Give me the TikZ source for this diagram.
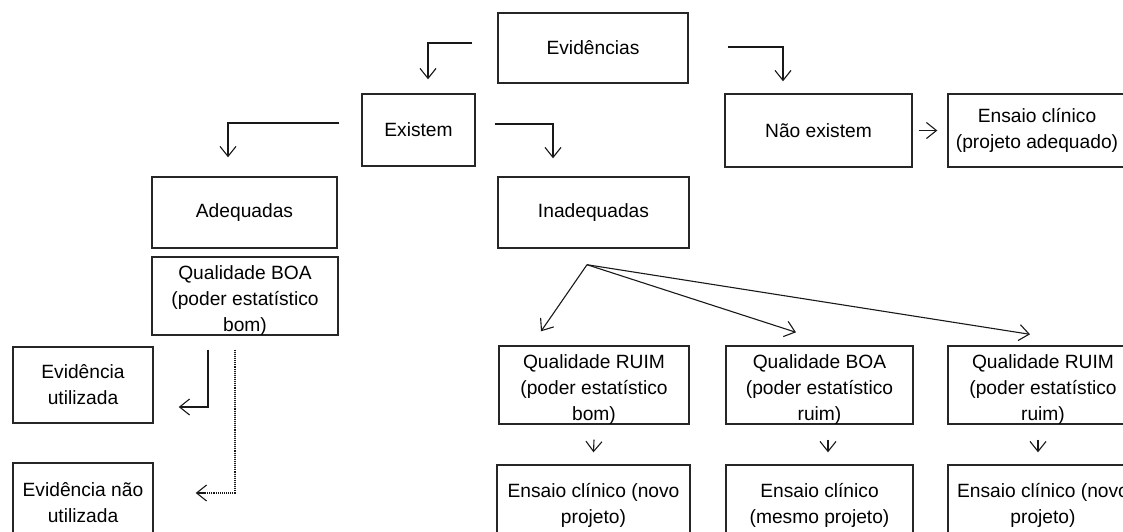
\documentclass[tikz,border=0pt]{standalone}
\usepackage{fontspec}
\setmainfont{Liberation Sans}
\usetikzlibrary{arrows.meta}
% taller first line, so three-line texts sit a little lower in their boxes
\newcommand\firstline{\rule{0pt}{22pt}}
\begin{document}
\begin{tikzpicture}[x=1pt,y=-1pt,
  box/.style={draw=black!85, line width=1.4pt, rectangle, inner sep=0pt,
    align=center, font=\fontsize{19.2}{26}\selectfont},
  wh/.style 2 args={minimum width=#1, minimum height=#2},
  arr/.style={line width=1.1pt, draw=black!90,
    -{Straight Barb[length=10pt,width=16pt,line width=1.1pt]}},
]
\useasboundingbox (0,0) rectangle (1123,531);

% top level
\node[box, wh={190pt}{70pt}] (evid) at (593,48) {Evidências};
\node[box, wh={113pt}{72pt}] (exist) at (418.5,130) {Existem};
\node[box, wh={187pt}{73pt}] (naoex) at (818.5,130.5) {Não existem};
\node[box, wh={178pt}{73pt}] (ensad) at (1037,130.5) {Ensaio clínico\\(projeto adequado)};

% adequate evidence branch
\node[box, wh={185pt}{71pt}] (adeq) at (244.5,212.5) {Adequadas};
\node[box, wh={186pt}{76pt}] (qboa) at (245,296) {\firstline Qualidade BOA\\(poder estatístico\\bom)};
\node[box, wh={140pt}{76pt}] (evutil) at (83,385) {Evidência\\utilizada};
\node[box, wh={140pt}{80pt}] (evnao) at (83,503) {Evidência não\\utilizada};

% inadequate evidence branch
\node[box, wh={191pt}{71pt}] (inad) at (593.5,212.5) {Inadequadas};
\node[box, wh={190pt}{74pt}] (r1) at (594,385) {\firstline Qualidade RUIM\\(poder estatístico\\bom)};
\node[box, wh={187pt}{74pt}] (r2) at (819.5,385) {\firstline Qualidade BOA\\(poder estatístico\\ruim)};
\node[box, wh={190pt}{74pt}] (r3) at (1043,385) {\firstline Qualidade RUIM\\(poder estatístico\\ruim)};
\node[box, wh={193pt}{80pt}] (b1) at (593.5,505) {Ensaio clínico (novo\\projeto)};
\node[box, wh={187pt}{80pt}] (b2) at (819.5,505) {Ensaio clínico\\(mesmo projeto)};
\node[box, wh={190pt}{80pt}] (b3) at (1043,505) {Ensaio clínico (novo\\projeto)};

% elbow connectors
\draw[arr] ([xshift=-25pt,yshift=5pt]evid.west) -| ([xshift=9.5pt,yshift=14pt]exist.north);
\draw[arr] ([xshift=39pt,yshift=1pt]evid.east) -| ([xshift=-35.5pt,yshift=12pt]naoex.north);
\draw[arr] ([xshift=-22pt,yshift=7pt]exist.west) -| ([xshift=-16.5pt,yshift=19pt]adeq.north);
\draw[arr] ([xshift=19pt,yshift=6pt]exist.east) -| ([xshift=-40.5pt,yshift=18pt]inad.north);
\draw[arr] ([xshift=6pt]naoex.east) -- ([xshift=-10pt]ensad.west);

% outcomes of good-quality evidence
\draw[arr] ([xshift=-37pt,yshift=-14pt]qboa.south) |- ([xshift=25pt,yshift=-22pt]evutil.east);
\draw[line width=1.1pt, draw=black!90, densely dotted] ([xshift=-10pt,yshift=-14pt]qboa.south) |- ([xshift=50pt,yshift=10pt]evnao.east) coordinate (dotend);
\draw[arr] (dotend) -- ([xshift=42pt,yshift=10pt]evnao.east);

% fan out from the inadequate branch
\coordinate (fan) at ([xshift=-6.5pt,yshift=-16pt]inad.south);
\draw[arr] (fan) -- ([xshift=-53pt,yshift=14pt]r1.north);
\draw[arr] (fan) -- ([xshift=-23.5pt,yshift=13pt]r2.north);
\draw[arr] (fan) -- ([xshift=-13pt,yshift=11pt]r3.north);

% quality to trial
\draw[arr] ([yshift=-15pt]r1.south) -- ([yshift=12pt]b1.north);
\draw[arr] ([xshift=8.5pt,yshift=-15pt]r2.south) -- ([xshift=8.5pt,yshift=12pt]b2.north);
\draw[arr] ([xshift=-5pt,yshift=-15pt]r3.south) -- ([xshift=-5pt,yshift=12pt]b3.north);
\end{tikzpicture}
\end{document}
